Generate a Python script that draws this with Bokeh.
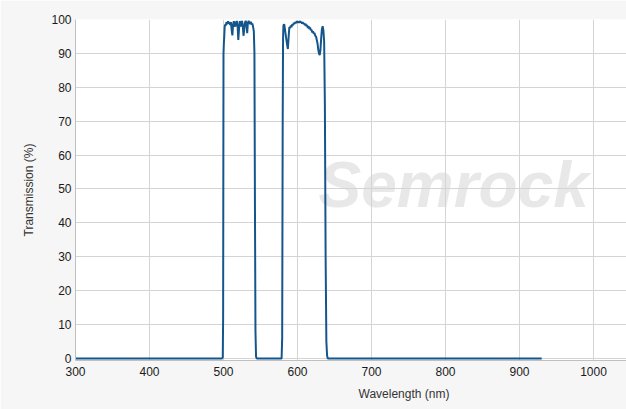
from bokeh.plotting import figure
from bokeh.models import Label, Range1d, FixedTicker, Title
from bokeh.embed import file_html
from bokeh.resources import INLINE

# ---- data ----
wavelength_nm = [
    300, 400, 498, 499, 499.5, 500, 500.5, 501, 501.5, 502, 503, 504, 505, 506, 507, 508, 509, 510,
    511, 512, 513, 514, 515, 516, 517, 518, 519, 520, 521, 522, 523, 524, 525, 526,
    527, 528, 529, 530, 531, 532, 533, 534, 535, 536, 537, 538, 539, 540, 541, 541.8,
    542.5, 543.2, 544, 545,
    560, 578.5, 579.3, 580, 580.5, 581, 582, 583, 584, 585, 586, 587, 588, 589, 590,
    591, 592, 593, 594, 595, 596, 597, 598, 599, 600, 601, 602, 603, 604, 605,
    606, 607, 608, 609, 610, 611, 612, 613, 614, 615, 616, 617, 618, 619, 620,
    621, 622, 623, 624, 625, 626, 627, 628, 629, 630, 631, 632, 633, 634, 635,
    636, 637, 638, 639, 640, 641, 700, 800, 930,
]
transmission_pct = [
    0, 0, 0, 0.3, 12, 90, 93, 95, 97.5, 98.5, 98.2, 99.2, 98.6, 99.5, 98.8, 99.3, 98.4, 99.2,
    97.0, 95.3, 98.6, 99.5, 97.8, 99.4, 98.0, 99.6, 98.3, 94.0, 97.2, 99.5, 98.9, 97.9, 99.6, 98.4,
    95.2, 97.0, 99.0, 99.6, 98.7, 96.0, 99.1, 99.6, 99.0, 98.7, 99.3, 98.5, 98.8, 97.8, 96.5, 90,
    45, 8, 0.5, 0,
    0, 0, 6, 70, 95, 98.3, 98.6, 97.2, 95.5, 94.0, 92.5, 91.3, 94.8, 97.8, 97.4,
    98.2, 97.8, 98.6, 98.3, 99.0, 98.7, 99.2, 98.9, 99.5, 99.1, 99.4, 99.0, 99.5, 99.2, 99.3,
    98.8, 99.2, 98.7, 98.9, 98.3, 98.7, 98.0, 98.4, 97.5, 98.0, 97.2, 97.6, 96.8, 97.0, 96.2,
    96.5, 95.8, 96.0, 95.2, 95.0, 94.0, 93.0, 91.2, 90.0, 89.5, 91.0, 94.5, 97.2, 98.0, 96.8,
    93.5, 75, 30, 5, 0.8, 0, 0, 0, 0,
]
x_ticks = [300, 400, 500, 600, 700, 800, 900, 1000]
y_ticks = [0, 10, 20, 30, 40, 50, 60, 70, 80, 90, 100]
x_title = "Wavelength (nm)"
y_title = "Transmission (%)"
watermark = "Semrock"

FONT = "Liberation Sans"
LINE = "#14568c"
GRID = "#d4d4d4"

p = figure(
    width=626, height=409,
    output_backend="svg", toolbar_location=None,
    x_range=Range1d(300, 1044.6), y_range=Range1d(-0.6, 100),
    min_border_left=75, min_border_right=0, min_border_top=19, min_border_bottom=49,
)
p.background_fill_color = "white"
p.border_fill_color = "#f6f6f6"
p.outline_line_color = None

# watermark (behind grid)
p.add_layout(Label(
    x=811, y=51.3, text=watermark, text_font=FONT, text_font_size="64px",
    text_font_style="bold italic", text_color="#e8e8e8", text_align="center",
    text_baseline="alphabetic", level="image",
))

p.line(wavelength_nm, transmission_pct, line_color=LINE, line_width=2)

for ax, ticks in ((p.xaxis, x_ticks), (p.yaxis, y_ticks)):
    ax.ticker = FixedTicker(ticks=ticks)
    ax.major_tick_line_color = None
    ax.minor_tick_line_color = None
    ax.major_tick_out = 0
    ax.major_tick_in = 0
    ax.axis_line_color = "#c0c0c0"
    ax.major_label_text_font = FONT
    ax.major_label_text_font_size = "12px"
    ax.major_label_text_color = "#1a1a1a"

p.xaxis.major_label_standoff = 6
p.yaxis.major_label_standoff = 4

p.yaxis.axis_label = y_title
p.yaxis.axis_label_text_font = FONT
p.yaxis.axis_label_text_font_size = "12px"
p.yaxis.axis_label_text_font_style = "normal"
p.yaxis.axis_label_text_color = "#333333"
p.yaxis.axis_label_standoff = 12

p.add_layout(Title(
    text=x_title, align="left", offset=283, text_font=FONT, text_font_size="12px",
    text_font_style="normal", text_color="#333333", standoff=12,
), "below")

p.xgrid.ticker = FixedTicker(ticks=x_ticks)
p.ygrid.ticker = FixedTicker(ticks=y_ticks)
p.grid.grid_line_color = GRID
p.grid.grid_line_width = 1

open("out.html", "w").write(file_html(p, INLINE))
